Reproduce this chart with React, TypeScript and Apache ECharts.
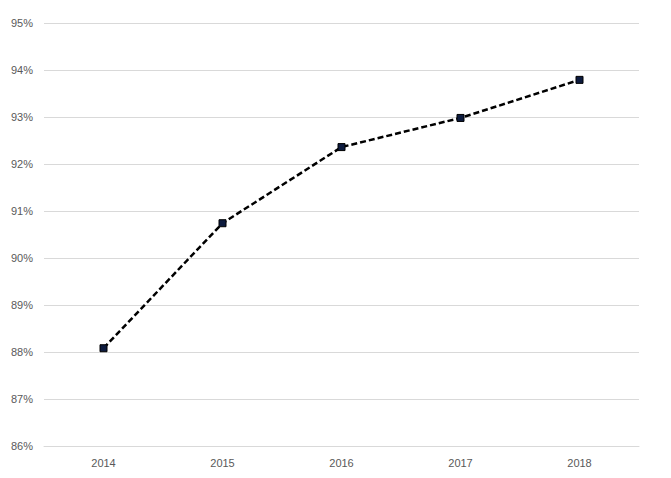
import React, { useEffect, useRef } from "react";
import * as echarts from "echarts";

const years = ["2014", "2015", "2016", "2017", "2018"];
const rates = [88.08, 90.74, 92.36, 92.98, 93.79];
const yMin = 86;
const yMax = 95;

export default function App() {
  const ref = useRef<HTMLDivElement>(null);
  useEffect(() => {
    document.body.style.margin = "0";
    if (!ref.current) return;
    const chart = echarts.init(ref.current, undefined, { renderer: "svg" });
    chart.setOption({
      animation: false,
      backgroundColor: "#ffffff",
      grid: { left: 44, right: 32, top: 23, bottom: 32, containLabel: false },
      xAxis: {
        type: "category",
        data: years,
        boundaryGap: true,
        axisLine: { show: true, lineStyle: { color: "#d9d9d9", width: 1 } },
        axisTick: { show: false },
        axisLabel: { color: "#595959", fontSize: 11, fontFamily: "Liberation Sans", margin: 11 },
      },
      yAxis: {
        type: "value",
        min: yMin,
        max: yMax,
        interval: 1,
        axisLine: { show: false },
        axisTick: { show: false },
        splitLine: { lineStyle: { color: "#d9d9d9", width: 1 } },
        axisLabel: {
          color: "#595959",
          fontSize: 11,
          fontFamily: "Liberation Sans",
          margin: 11,
          formatter: (v: number) => `${v}%`,
        },
      },
      series: [
        {
          type: "line",
          data: rates,
          symbol: "rect",
          symbolSize: 7,
          lineStyle: { color: "#000000", width: 2.5, type: [6, 3] },
          itemStyle: { color: "#0d1b3e", borderColor: "#000000", borderWidth: 1 },
        },
      ],
    });
    return () => chart.dispose();
  }, []);
  return <div ref={ref} style={{ width: 671, height: 478 }} />;
}
